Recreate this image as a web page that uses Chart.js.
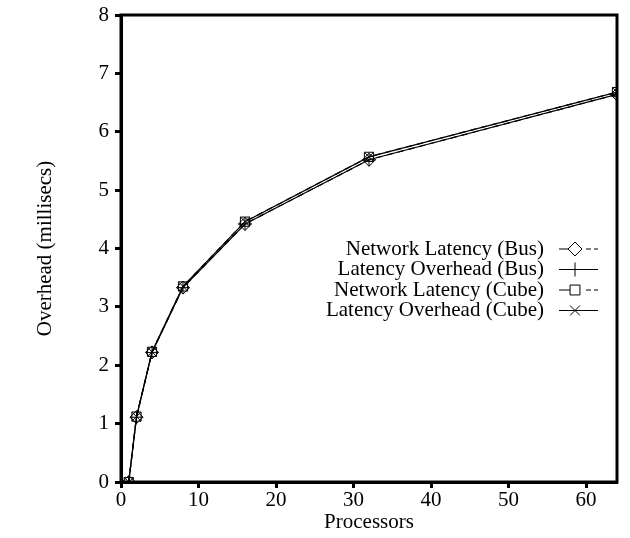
<!DOCTYPE html>
<html><head><meta charset="utf-8">
<script src="https://cdn.jsdelivr.net/npm/chart.js@4"></script>
<style>html,body{margin:0;padding:0;background:#fff}canvas{display:block}</style>
</head><body>
<canvas id="c" width="630" height="538"></canvas>
<script>
const processors = [1, 2, 4, 8, 16, 32, 64];
const networkLatencyBus = [0, 1.11, 2.22, 3.33, 4.42, 5.52, 6.64];
const latencyOverheadBus = [0, 1.11, 2.22, 3.33, 4.42, 5.52, 6.64];
const networkLatencyCube = [0, 1.12, 2.23, 3.35, 4.46, 5.57, 6.68];
const latencyOverheadCube = [0, 1.12, 2.23, 3.35, 4.46, 5.57, 6.68];
const seriesNames = ["Network Latency (Bus)", "Latency Overhead (Bus)", "Network Latency (Cube)", "Latency Overhead (Cube)"];
const xTicks = [0, 10, 20, 30, 40, 50, 60];
const yTicks = [0, 1, 2, 3, 4, 5, 6, 7, 8];

const FONT = "'Liberation Serif', 'Times New Roman', serif";
const styles = [
  {pointStyle: 'rectRot', dash: [6, 5]},
  {pointStyle: 'cross', dash: []},
  {pointStyle: 'rect', dash: [6, 5]},
  {pointStyle: 'crossRot', dash: []}
];
const seriesData = [networkLatencyBus, latencyOverheadBus, networkLatencyCube, latencyOverheadCube];

const datasets = seriesData.map((vals, i) => ({
  label: seriesNames[i],
  data: processors.map((p, j) => ({x: p, y: vals[j]})),
  borderColor: '#000',
  borderWidth: 1.2,
  borderDash: styles[i].dash,
  pointStyle: styles[i].pointStyle,
  pointRadius: 6.5,
  pointBorderWidth: 1,
  pointBorderColor: '#000',
  pointBackgroundColor: 'rgba(0,0,0,0)',
  fill: false,
  tension: 0
}));

const framePlugin = {
  id: 'frame',
  afterDraw(chart) {
    const {ctx, chartArea: a} = chart;
    ctx.save();
    ctx.strokeStyle = '#000';
    ctx.lineWidth = 3;
    ctx.strokeRect(a.left, a.top, a.right - a.left, a.bottom - a.top);
    ctx.restore();
  }
};

const legendPlugin = {
  id: 'customLegend',
  afterDraw(chart) {
    const ctx = chart.ctx;
    ctx.save();
    ctx.font = "21px " + FONT;
    ctx.textAlign = 'right';
    ctx.textBaseline = 'middle';
    const textRight = 544, lx0 = 559, lx1 = 598, mx = 575;
    const y0 = 249, dy = 20.5;
    seriesNames.forEach((name, i) => {
      const y = y0 + i * dy;
      ctx.fillStyle = '#000';
      ctx.fillText(name, textRight, y);
      ctx.strokeStyle = '#000';
      ctx.lineWidth = 1.2;
      ctx.beginPath();
      if (styles[i].dash.length) {
        ctx.moveTo(lx0, y); ctx.lineTo(mx, y);
        ctx.moveTo(586, y); ctx.lineTo(591, y);
        ctx.moveTo(594, y); ctx.lineTo(lx1, y);
      } else {
        ctx.moveTo(lx0, y); ctx.lineTo(lx1, y);
      }
      ctx.stroke();
      ctx.lineWidth = 1;
      ctx.fillStyle = '#fff';
      Chart.helpers.drawPoint(ctx, {pointStyle: styles[i].pointStyle, radius: 7, rotation: 0, borderWidth: 1}, mx, y);
    });
    ctx.restore();
  }
};

new Chart(document.getElementById('c'), {
  type: 'line',
  data: {datasets},
  plugins: [framePlugin, legendPlugin],
  options: {
    responsive: false,
    animation: false,
    devicePixelRatio: 1,
    layout: {padding: {top: 15, right: 13, left: 0, bottom: 0}},
    plugins: {legend: {display: false}, tooltip: {enabled: false}},
    elements: {line: {borderCapStyle: 'butt'}},
    scales: {
      x: {
        type: 'linear', min: 0, max: 64,
        afterBuildTicks(s) { s.ticks = xTicks.map(v => ({value: v})); },
        afterFit(s) { s.height = 56; s.paddingLeft = 0; s.paddingRight = 0; },
        grid: {display: true, drawOnChartArea: false, drawTicks: true, tickLength: 6, tickWidth: 3, color: '#000'},
        border: {display: true, color: '#000', width: 3},
        ticks: {color: '#000', font: {family: FONT, size: 21}, padding: 0, maxRotation: 0},
        title: {display: true, text: 'Processors', color: '#000', font: {family: FONT, size: 21}, padding: {top: 0, bottom: 3}}
      },
      y: {
        type: 'linear', min: 0, max: 8,
        afterBuildTicks(s) { s.ticks = yTicks.map(v => ({value: v})); },
        afterFit(s) { s.width = 121; s.paddingTop = 0; s.paddingBottom = 0; },
        grid: {display: true, drawOnChartArea: false, drawTicks: true, tickLength: 6, tickWidth: 3, color: '#000'},
        border: {display: true, color: '#000', width: 3},
        ticks: {color: '#000', font: {family: FONT, size: 21}, padding: 6},
        title: {display: true, text: 'Overhead (millisecs)', color: '#000', font: {family: FONT, size: 21}, padding: {top: 33, bottom: 0}}
      }
    }
  }
});
</script>
</body></html>
